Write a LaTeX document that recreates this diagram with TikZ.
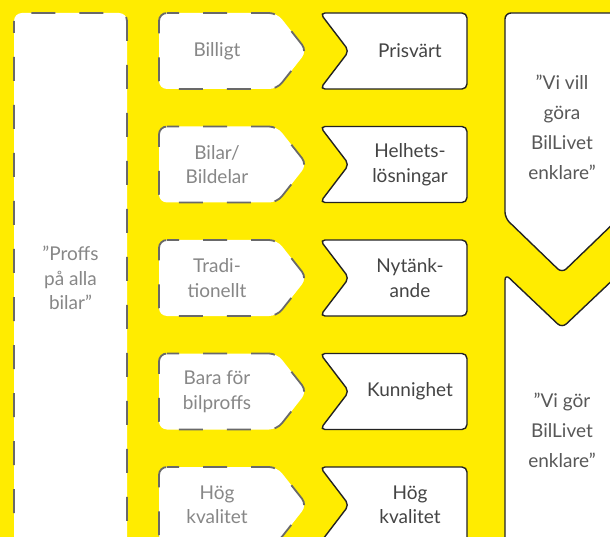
\documentclass[tikz,border=0pt]{standalone}
\usepackage{fontspec}
\setmainfont{Lato}
\definecolor{bgyellow}{RGB}{255,236,0}
\definecolor{dashgray}{RGB}{105,105,105}
\definecolor{lighttext}{RGB}{135,135,135}
\definecolor{darktext}{RGB}{68,68,68}
\definecolor{midtext}{RGB}{88,88,88}
\definecolor{edgedark}{RGB}{35,35,35}
\tikzset{
  dashbox/.style={draw=dashgray, fill=white, line width=1.8pt, dash pattern=on 24pt off 24pt, dash phase=12pt},
  solidbox/.style={draw=edgedark, fill=white, line width=1.4pt},
  lighttxt/.style={text=lighttext, font=\fontsize{19}{24.5}\selectfont, align=center, inner sep=0pt},
  darktxt/.style={text=darktext, font=\fontsize{19}{24.5}\selectfont, align=center, inner sep=0pt},
  righttxt/.style={text=midtext, font=\fontsize{19}{30}\selectfont, align=center, inner sep=0pt},
}
\begin{document}
\begin{tikzpicture}[x=1pt,y=-1pt]
\useasboundingbox (0,0) rectangle (610,537);
\clip (0,0) rectangle (610,537);
\fill[bgyellow] (0,0) rectangle (610,537);
% left tall box
\draw[dashbox, rounded corners=8] (14,13) rectangle (127,620);
\node[lighttxt] (proffs) at (70.5,278) {”Proffs\\på alla\\bilar”};
% rows
\foreach \k/\lt/\rt [count=\i] in {0/{Billigt}/{Prisvärt},
  1/{Bilar/\\Bildelar}/{Helhets-\\lösningar},
  2/{Tradi-\\tionellt}/{Nytänk-\\ande},
  3/{Bara för\\bilproffs}/{Kunnighet},
  4/{Hög\\kvalitet}/{Hög\\kvalitet}}{
  \pgfmathsetmacro{\y}{13+113.5*\k}
  \draw[dashbox, rounded corners=8] (159,\y) -- (277,\y) -- (307,\y+38) -- (277,\y+76) -- (159,\y+76) -- cycle;
  \node[lighttxt] (l\i) at (217,\y+38) {\lt};
  \draw[solidbox, rounded corners=5] (320,\y) -- (467,\y) -- (467,\y+76) -- (320,\y+76) -- (349,\y+38) -- cycle;
  \node[darktxt] (m\i) at (410,\y+38) {\rt};
}
% right boxes
\draw[solidbox, rounded corners=6] (505,13) -- (619,13) -- (619,218) -- (562,273) -- (505,218) -- cycle;
\node[righttxt] (vivill) at (562,127) {”Vi vill\\göra\\BilLivet\\enklare”};
\draw[solidbox, rounded corners=6] (505,274) -- (562,328) -- (619,274) -- (619,620) -- (505,620) -- cycle;
\node[righttxt] (vigor) at (562,430) {”Vi gör\\BilLivet\\enklare”};
\end{tikzpicture}
\end{document}
